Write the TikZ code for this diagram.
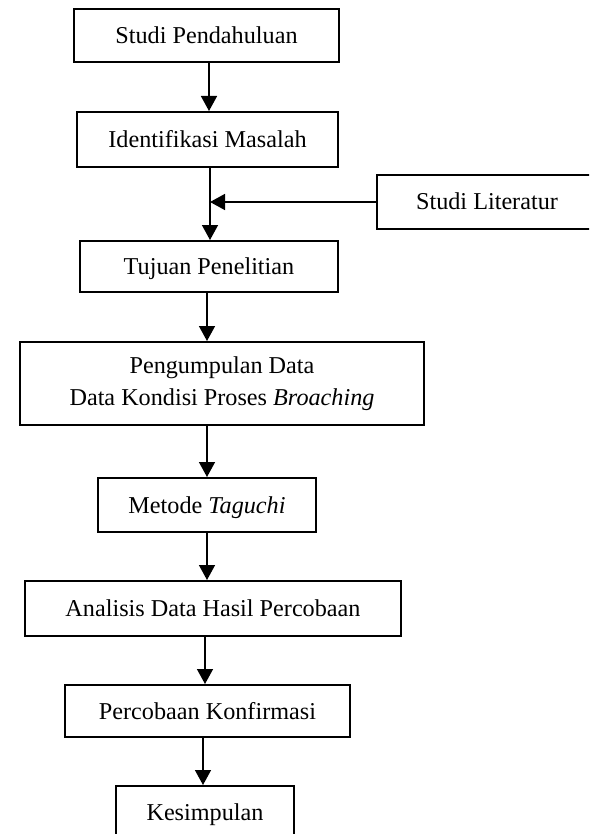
\documentclass[tikz,border=0pt]{standalone}
\usepackage{fontspec}
\setmainfont{Liberation Serif}
\usetikzlibrary{arrows.meta}
\begin{document}
\begin{tikzpicture}[x=0.5pt,y=-0.5pt,
  box/.style={draw,line width=1pt,rectangle,inner sep=0pt,align=center,
    font=\fontsize{12.1pt}{16pt}\selectfont,text height=8pt,text depth=0pt},
  boxml/.style={draw,line width=1pt,rectangle,inner sep=0pt,align=center,
    font=\fontsize{12.1pt}{16pt}\selectfont},
  arr/.style={line width=0.75pt,-{Triangle[length=7.5pt,width=8pt]}}]
\useasboundingbox (0,0) rectangle (589,834);
\clip (0,0) rectangle (589,834);
\node[box,minimum width=132.5pt,minimum height=26.5pt] (b1) at (206.5,35.5) {Studi Pendahuluan};
\node[box,minimum width=130.5pt,minimum height=27.5pt] (b2) at (207.5,139.5) {Identifikasi Masalah};
\node[box,minimum width=110pt,minimum height=27pt] (lit) at (487,202) {Studi Literatur};
\node[box,minimum width=129pt,minimum height=25.5pt] (b3) at (209,266.5) {Tujuan Penelitian};
\node[boxml,minimum width=202pt,minimum height=41.5pt] (b4) at (222,383.5) {Pengumpulan Data\\Data Kondisi Proses \textit{Broaching}};
\node[box,minimum width=109pt,minimum height=27pt] (b5) at (207,505) {Metode \textit{Taguchi}};
\node[box,minimum width=188pt,minimum height=27.5pt] (b6) at (213,608.5) {Analisis Data Hasil Percobaan};
\node[box,minimum width=142.5pt,minimum height=26pt] (b7) at (207.5,711) {Percobaan Konfirmasi};
\node[box,minimum width=89pt,minimum height=26pt] (b8) at (205,812) {Kesimpulan};
\coordinate (x1) at (209,0);
\coordinate (x2) at (210,0);
\coordinate (x3) at (207,0);
\coordinate (x6) at (205,0);
\coordinate (x7) at (203,0);
\draw[arr] (b1.south -| x1) -- (b2.north -| x1);
\draw[arr] (b2.south -| x2) -- (b3.north -| x2);
\draw[arr] (lit.west) -- (lit.west -| x2);
\draw[arr] (b3.south -| x3) -- (b4.north -| x3);
\draw[arr] (b4.south -| x3) -- (b5.north -| x3);
\draw[arr] (b5.south -| x3) -- (b6.north -| x3);
\draw[arr] (b6.south -| x6) -- (b7.north -| x6);
\draw[arr] (b7.south -| x7) -- (b8.north -| x7);
\end{tikzpicture}
\end{document}
